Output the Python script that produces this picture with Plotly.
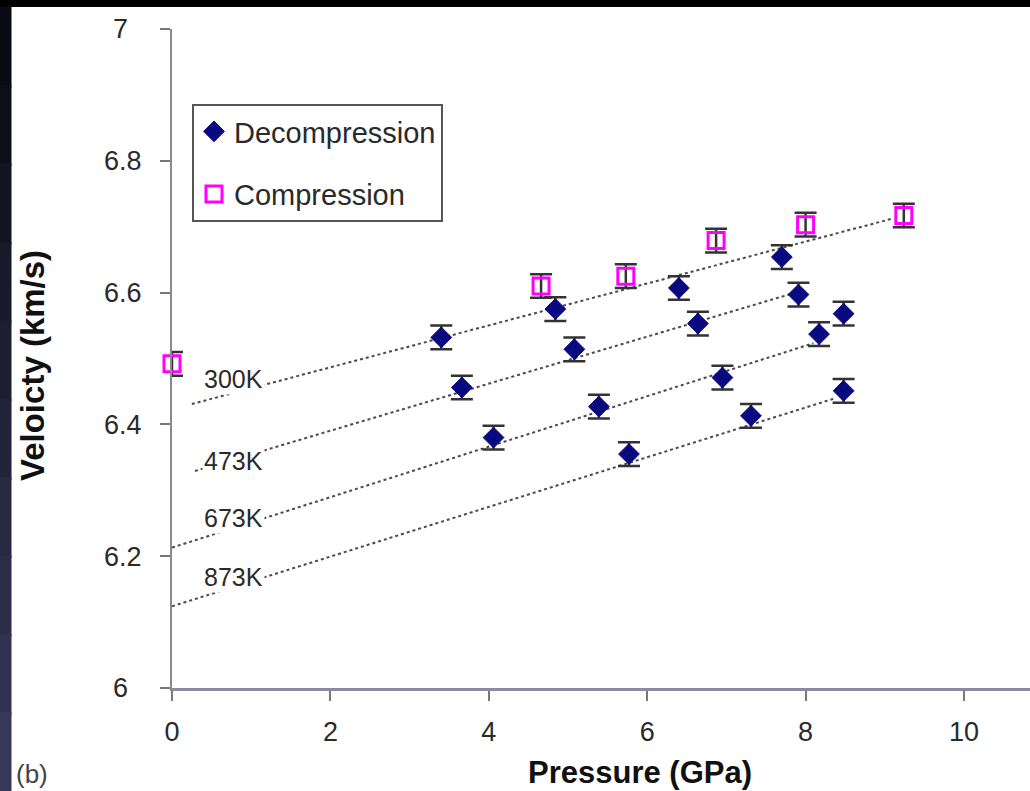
import plotly.graph_objects as go

# Decompression runs (km/s vs GPa)
pressure_decomp = [3.40, 4.84, 6.40, 7.70, 3.66, 5.08, 6.64, 7.91, 8.48,
                   4.06, 5.39, 6.95, 8.17, 5.77, 7.31, 8.48]
velocity_decomp = [6.532, 6.575, 6.607, 6.654, 6.456, 6.514, 6.553, 6.597, 6.568,
                   6.380, 6.427, 6.471, 6.537, 6.355, 6.413, 6.451]

# Compression run at room temperature
pressure_comp = [0.0, 4.66, 5.73, 6.87, 8.00, 9.24]
velocity_comp = [6.492, 6.610, 6.625, 6.679, 6.703, 6.717]

velocity_err = 0.018

# Linear isotherm fits: v = a + b * P
isotherms = ["300K", "473K", "673K", "873K"]
fit_intercept = [6.423, 6.319, 6.213, 6.124]
fit_slope = [0.0318, 0.0357, 0.0383, 0.0377]
fit_p_start = [0.25, 0.29, 0.0, 0.0]
fit_p_end = [9.10, 7.85, 8.10, 8.35]
label_p = [0.78, 0.78, 0.78, 0.78]
label_v = [6.469, 6.344, 6.258, 6.168]

x_ticks = [0, 2, 4, 6, 8, 10]
y_ticks = [6.0, 6.2, 6.4, 6.6, 6.8, 7.0]
y_ticktext = ["6\u2002", "6.2", "6.4", "6.6", "6.8", "7\u2002"]

W, H = 1030, 791
L, R, T, B = 172, 0, 29, 103
X_MAX = (W - L) / 79.2

FONT = "Liberation Sans, Arial, sans-serif"
TXT = "#2a2a2a"


def px_to_x(px):
    return (px - L) / (W - L)


def py_to_y(py):
    return (H - B - py) / (H - T - B)


fig = go.Figure()

for name, a, b, p0, p1 in zip(isotherms, fit_intercept, fit_slope, fit_p_start, fit_p_end):
    fig.add_trace(go.Scatter(
        x=[p0, p1], y=[a + b * p0, a + b * p1],
        mode="lines", line=dict(color="#4a4a4a", width=2, dash="dot"),
        showlegend=False, hoverinfo="skip", name=name, legendgroup="fits",
    ))

fig.add_trace(go.Scatter(
    x=pressure_decomp, y=velocity_decomp, mode="markers", name="Decompression",
    legendgroup="dec",
    marker=dict(symbol="diamond", size=16, color="#0a0a80",
                line=dict(color="#0a0a80", width=1)),
    error_y=dict(type="constant", value=velocity_err, color="#333333",
                 thickness=2.5, width=11),
))

fig.add_trace(go.Scatter(
    x=pressure_comp, y=velocity_comp, mode="markers", name="Compression",
    legendgroup="comp", cliponaxis=False,
    marker=dict(symbol="square-open", size=16, color="#ff00ff",
                line=dict(color="#ff00ff", width=3)),
    error_y=dict(type="constant", value=velocity_err, color="#333333",
                 thickness=2.5, width=11),
))

for name, p, v in zip(isotherms, label_p, label_v):
    fig.add_annotation(x=p, y=v, text=name, showarrow=False,
                       font=dict(family=FONT, size=25, color=TXT),
                       bgcolor="white", borderpad=1)

# Axis titles and panel tag
fig.add_annotation(xref="paper", yref="paper", x=px_to_x(640), y=py_to_y(772),
                   xanchor="center", yanchor="middle",
                   text="<b>Pressure (GPa)</b>", showarrow=False,
                   font=dict(family=FONT, size=31, color="#111"))
fig.add_annotation(xref="paper", yref="paper", x=px_to_x(32), y=py_to_y(366),
                   xanchor="center", yanchor="middle",
                   text="<b>Veloicty (km/s)</b>", showarrow=False, textangle=-90,
                   font=dict(family=FONT, size=33, color="#111"))
fig.add_annotation(xref="paper", yref="paper", x=px_to_x(14), y=py_to_y(774),
                   xanchor="left", yanchor="middle", text="(b)", showarrow=False,
                   font=dict(family=FONT, size=26, color="#444"))

# Dark frame along the top and left edges
fig.add_shape(type="rect", xref="paper", yref="paper",
              x0=px_to_x(0), x1=px_to_x(W), y0=py_to_y(7), y1=py_to_y(0),
              fillcolor="black", line=dict(width=0), layer="above")
steps = 10
for i in range(steps):
    t = i / (steps - 1)
    c = (int(10 + 45 * t), int(10 + 45 * t), int(18 + 70 * t))
    top = 7 + (H - 7) * i / steps
    bottom = 7 + (H - 7) * (i + 1) / steps + 2
    fig.add_shape(type="rect", xref="paper", yref="paper",
                  x0=px_to_x(0), x1=px_to_x(11),
                  y0=py_to_y(min(bottom, H)), y1=py_to_y(top),
                  fillcolor=f"rgb{c}", line=dict(color=f"rgb{c}", width=1),
                  layer="above")

fig.update_layout(
    width=W, height=H,
    margin=dict(l=L, r=R, t=T, b=B, autoexpand=False),
    paper_bgcolor="white", plot_bgcolor="white",
    font=dict(family=FONT, color=TXT),
    showlegend=True,
    legend=dict(x=px_to_x(192), y=py_to_y(104), xanchor="left", yanchor="top",
                bgcolor="white", bordercolor="#555555", borderwidth=2,
                font=dict(family=FONT, size=29, color=TXT),
                tracegroupgap=22, traceorder="grouped"),
    xaxis=dict(range=[0, X_MAX], tickvals=x_ticks, ticks="outside", ticklen=10,
               tickwidth=2, tickcolor="#777", showline=True, linecolor="#8a8aa0",
               linewidth=3, showgrid=False, zeroline=False,
               ticklabelstandoff=8,
               tickfont=dict(family=FONT, size=27, color=TXT)),
    yaxis=dict(range=[6, 7], tickvals=y_ticks, ticktext=y_ticktext, ticks="outside",
               ticklen=10, tickwidth=2, tickcolor="#777", showline=True,
               linecolor="#8a8a8a", linewidth=2, showgrid=False, zeroline=False,
               ticklabelstandoff=13,
               tickfont=dict(family=FONT, size=27, color=TXT)),
)

fig.write_html("out.html")
